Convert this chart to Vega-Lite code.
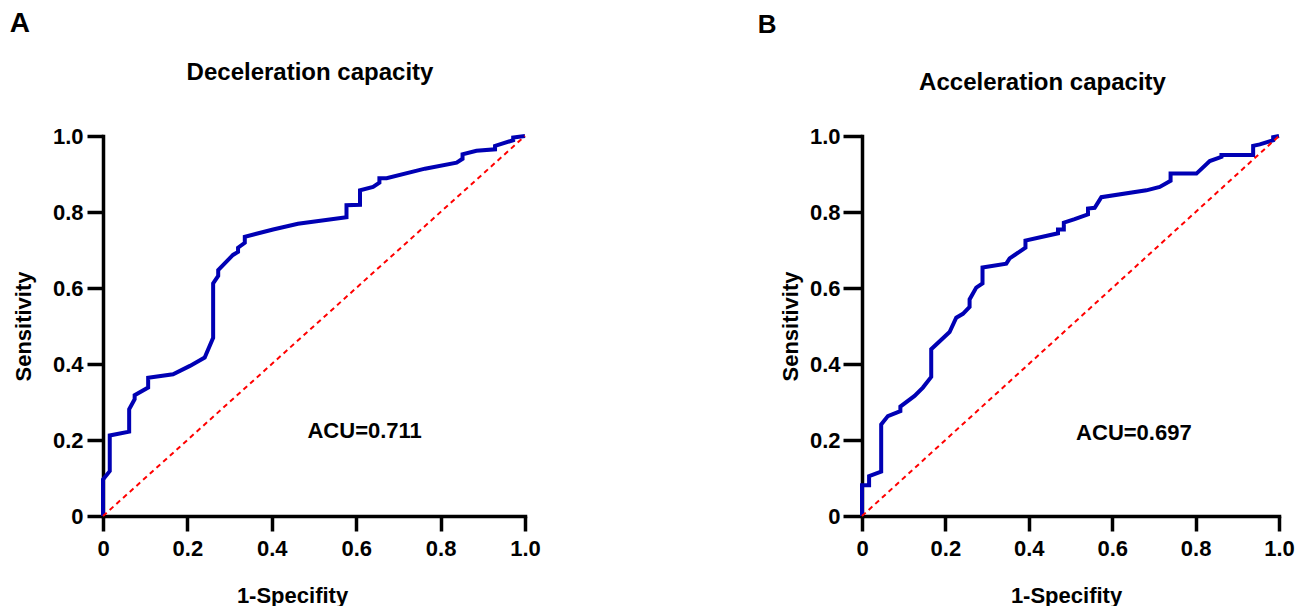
{
  "$schema": "https://vega.github.io/schema/vega-lite/v6.json",
  "padding": {"left": 9, "top": 10, "right": 0, "bottom": 0},
  "background": "white",
  "bounds": "flush",
  "spacing": 337,
  "datasets": {
    "rocA": [
      {"x": 0, "y": 0}, {"x": 0, "y": 0.096}, {"x": 0.016, "y": 0.118}, {"x": 0.016, "y": 0.212},
      {"x": 0.062, "y": 0.222}, {"x": 0.062, "y": 0.281}, {"x": 0.075, "y": 0.307}, {"x": 0.075, "y": 0.318},
      {"x": 0.107, "y": 0.338}, {"x": 0.107, "y": 0.364}, {"x": 0.166, "y": 0.373}, {"x": 0.206, "y": 0.395},
      {"x": 0.241, "y": 0.417}, {"x": 0.261, "y": 0.469}, {"x": 0.261, "y": 0.612}, {"x": 0.273, "y": 0.632},
      {"x": 0.273, "y": 0.647}, {"x": 0.308, "y": 0.687}, {"x": 0.32, "y": 0.695}, {"x": 0.32, "y": 0.706},
      {"x": 0.336, "y": 0.719}, {"x": 0.336, "y": 0.735}, {"x": 0.403, "y": 0.754}, {"x": 0.462, "y": 0.769},
      {"x": 0.577, "y": 0.786}, {"x": 0.577, "y": 0.818}, {"x": 0.609, "y": 0.819}, {"x": 0.609, "y": 0.857},
      {"x": 0.64, "y": 0.866}, {"x": 0.655, "y": 0.877}, {"x": 0.655, "y": 0.889}, {"x": 0.672, "y": 0.889},
      {"x": 0.763, "y": 0.914}, {"x": 0.838, "y": 0.93}, {"x": 0.852, "y": 0.94}, {"x": 0.852, "y": 0.952},
      {"x": 0.885, "y": 0.961}, {"x": 0.929, "y": 0.965}, {"x": 0.929, "y": 0.974}, {"x": 0.972, "y": 0.989},
      {"x": 0.972, "y": 0.996}, {"x": 1, "y": 1}
    ],
    "rocB": [
      {"x": 0, "y": 0}, {"x": 0, "y": 0.081}, {"x": 0.017, "y": 0.081}, {"x": 0.017, "y": 0.105},
      {"x": 0.046, "y": 0.117}, {"x": 0.046, "y": 0.241}, {"x": 0.062, "y": 0.263}, {"x": 0.092, "y": 0.276},
      {"x": 0.092, "y": 0.288}, {"x": 0.126, "y": 0.316}, {"x": 0.146, "y": 0.338}, {"x": 0.166, "y": 0.366},
      {"x": 0.166, "y": 0.439}, {"x": 0.21, "y": 0.484}, {"x": 0.226, "y": 0.522}, {"x": 0.242, "y": 0.532},
      {"x": 0.258, "y": 0.55}, {"x": 0.258, "y": 0.57}, {"x": 0.274, "y": 0.601}, {"x": 0.289, "y": 0.612},
      {"x": 0.289, "y": 0.654}, {"x": 0.346, "y": 0.664}, {"x": 0.354, "y": 0.678}, {"x": 0.392, "y": 0.706},
      {"x": 0.392, "y": 0.725}, {"x": 0.47, "y": 0.744}, {"x": 0.47, "y": 0.754}, {"x": 0.484, "y": 0.754},
      {"x": 0.484, "y": 0.772}, {"x": 0.51, "y": 0.781}, {"x": 0.542, "y": 0.794}, {"x": 0.542, "y": 0.809},
      {"x": 0.558, "y": 0.811}, {"x": 0.574, "y": 0.839}, {"x": 0.682, "y": 0.857}, {"x": 0.714, "y": 0.866},
      {"x": 0.74, "y": 0.882}, {"x": 0.74, "y": 0.901}, {"x": 0.802, "y": 0.901}, {"x": 0.834, "y": 0.934},
      {"x": 0.862, "y": 0.945}, {"x": 0.862, "y": 0.95}, {"x": 0.938, "y": 0.95}, {"x": 0.938, "y": 0.974},
      {"x": 0.954, "y": 0.978}, {"x": 0.986, "y": 0.989}, {"x": 0.986, "y": 0.997}, {"x": 1, "y": 1}
    ],
    "one": [{}]
  },
  "config": {
    "view": {"stroke": null},
    "font": "Liberation Sans",
    "axis": {
      "grid": false,
      "domainColor": "black",
      "domainWidth": 3.5,
      "domainCap": "square",
      "tickColor": "black",
      "tickWidth": 3.5,
      "labelFont": "Liberation Sans",
      "labelFontSize": 22,
      "labelFontWeight": "bold",
      "labelColor": "black",
      "labelFlush": false,
      "labelOverlap": false,
      "titleFont": "Liberation Sans",
      "titleFontSize": 22,
      "titleFontWeight": "bold",
      "titleColor": "black"
    },
    "title": {
      "font": "Liberation Sans",
      "fontSize": 24,
      "fontWeight": "bold",
      "color": "black",
      "frame": "group",
      "baseline": "alphabetic"
    }
  },
  "hconcat": [
    {
      "width": 422,
      "height": 380,
      "title": {"text": "Deceleration capacity", "offset": -75, "dx": -4},
      "layer": [
        {
          "data": {"name": "rocA"},
          "mark": {"type": "line", "color": "#0000b4", "strokeWidth": 4},
          "encoding": {
            "x": {
              "field": "x", "type": "quantitative",
              "scale": {"domain": [0, 1], "nice": false},
              "axis": {
                "title": "1-Specifity",
                "values": [0, 0.2, 0.4, 0.6, 0.8, 1],
                "labelExpr": "datum.value == 0 ? '0' : format(datum.value, '.1f')",
                "tickSize": 15, "labelPadding": 7, "titlePadding": 26, "titleX": 189
              }
            },
            "y": {
              "field": "y", "type": "quantitative",
              "scale": {"domain": [0, 1], "nice": false},
              "axis": {
                "title": "Sensitivity",
                "values": [0, 0.2, 0.4, 0.6, 0.8, 1],
                "labelExpr": "datum.value == 0 ? '0' : format(datum.value, '.1f')",
                "tickSize": 16, "labelPadding": 4, "titlePadding": 17
              }
            },
            "order": {"value": null}
          }
        },
        {
          "data": {"name": "one"},
          "mark": {"type": "rule", "color": "#ff0000", "strokeWidth": 2, "strokeDash": [5, 4]},
          "encoding": {"x": {"datum": 0}, "y": {"datum": 0}, "x2": {"datum": 1}, "y2": {"datum": 1}}
        },
        {
          "data": {"name": "one"},
          "mark": {"type": "text", "text": "ACU=0.711", "font": "Liberation Sans", "fontSize": 22, "fontWeight": "bold", "color": "black", "align": "center", "baseline": "alphabetic"},
          "encoding": {"x": {"datum": 0.62}, "y": {"datum": 0.205}}
        },
        {
          "data": {"name": "one"},
          "mark": {"type": "text", "text": "A", "font": "Liberation Sans", "fontSize": 28, "fontWeight": "bold", "color": "black", "align": "left", "baseline": "alphabetic"},
          "encoding": {"x": {"datum": -0.221}, "y": {"datum": 1.273}}
        }
      ]
    },
    {
      "width": 417,
      "height": 380,
      "title": {"text": "Acceleration capacity", "offset": -83, "dx": -28},
      "layer": [
        {
          "data": {"name": "rocB"},
          "mark": {"type": "line", "color": "#0000b4", "strokeWidth": 4},
          "encoding": {
            "x": {
              "field": "x", "type": "quantitative",
              "scale": {"domain": [0, 1], "nice": false},
              "axis": {
                "title": "1-Specifity",
                "values": [0, 0.2, 0.4, 0.6, 0.8, 1],
                "labelExpr": "datum.value == 0 ? '0' : format(datum.value, '.1f')",
                "tickSize": 15, "labelPadding": 7, "titlePadding": 26, "titleX": 204
              }
            },
            "y": {
              "field": "y", "type": "quantitative",
              "scale": {"domain": [0, 1], "nice": false},
              "axis": {
                "title": "Sensitivity",
                "values": [0, 0.2, 0.4, 0.6, 0.8, 1],
                "labelExpr": "datum.value == 0 ? '0' : format(datum.value, '.1f')",
                "tickSize": 19, "labelPadding": 3, "titlePadding": 7
              }
            },
            "order": {"value": null}
          }
        },
        {
          "data": {"name": "one"},
          "mark": {"type": "rule", "color": "#ff0000", "strokeWidth": 2, "strokeDash": [5, 4]},
          "encoding": {"x": {"datum": 0}, "y": {"datum": 0}, "x2": {"datum": 1}, "y2": {"datum": 1}}
        },
        {
          "data": {"name": "one"},
          "mark": {"type": "text", "text": "ACU=0.697", "font": "Liberation Sans", "fontSize": 22, "fontWeight": "bold", "color": "black", "align": "center", "baseline": "alphabetic"},
          "encoding": {"x": {"datum": 0.652}, "y": {"datum": 0.2}}
        },
        {
          "data": {"name": "one"},
          "mark": {"type": "text", "text": "B", "font": "Liberation Sans", "fontSize": 26, "fontWeight": "bold", "color": "black", "align": "left", "baseline": "alphabetic"},
          "encoding": {"x": {"datum": -0.25}, "y": {"datum": 1.27}}
        }
      ]
    }
  ]
}
